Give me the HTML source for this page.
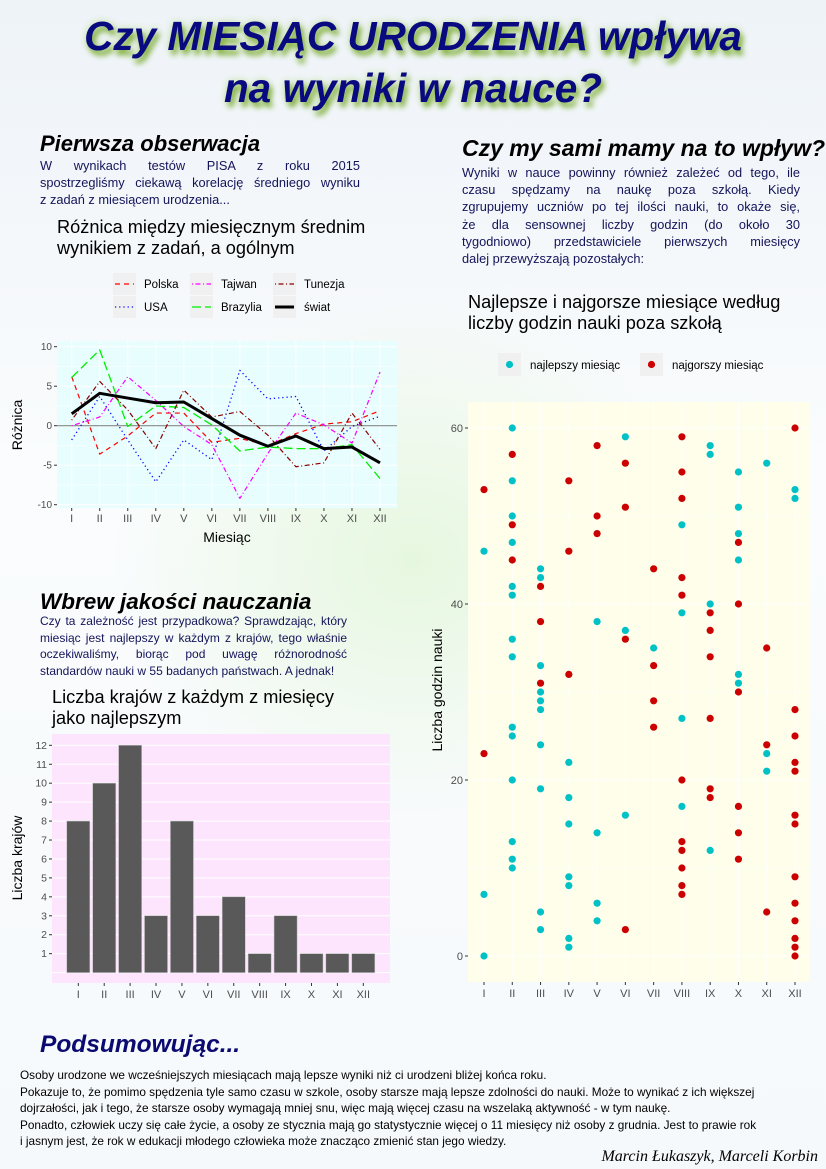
<!DOCTYPE html>
<html><head><meta charset="utf-8">
<style>
html,body{margin:0;padding:0}
body{width:826px;height:1169px;position:relative;overflow:hidden;font-family:"Liberation Sans",sans-serif;
background:radial-gradient(ellipse 300px 260px at 413px 560px,#e6f7df 0%,rgba(240,250,240,0) 100%),linear-gradient(180deg,#eef3f8 0%,#fafcfd 40%,#f6f9fc 100%);}
.abs{position:absolute;margin:0}
.title{left:0;width:826px;text-align:center;font-style:italic;font-weight:bold;font-size:40.5px;color:#0a0a80;text-shadow:3px 5px 6px #7fae3a,0 0 8px #c0dc98}
.h2{font-weight:bold;font-style:italic;font-size:22px;color:#000}
.p{font-size:12.8px;line-height:17.2px;color:#14145a}
.p span{display:block;text-align:justify;text-align-last:justify;white-space:nowrap}
.p span.l{text-align-last:left}
.ct{font-size:18.2px;line-height:21px;color:#000}
svg text{font-family:"Liberation Sans",sans-serif}
</style></head><body>
<div class="abs title" style="top:13px">Czy MIESIĄC URODZENIA wpływa</div>
<div class="abs title" style="top:65px">na wyniki w nauce?</div>

<div class="abs h2" style="left:40px;top:131px">Pierwsza obserwacja</div>
<div class="abs p" style="left:40px;top:157px;width:320px"><span>W wynikach testów PISA z roku 2015</span><span>spostrzegliśmy ciekawą korelację średniego wyniku</span><span class="l">z zadań z miesiącem urodzenia...</span></div>
<div class="abs ct" style="left:57px;top:217px">Różnica między miesięcznym średnim<br>wynikiem z zadań, a ogólnym</div>

<div class="abs h2" style="left:462px;top:135px;font-size:23px">Czy my sami mamy na to wpływ?</div>
<div class="abs p" style="left:462px;top:164px;width:338px"><span>Wyniki w nauce powinny również zależeć od tego, ile</span><span>czasu spędzamy na naukę poza szkołą. Kiedy</span><span>zgrupujemy uczniów po tej ilości nauki, to okaże się,</span><span>że dla sensownej liczby godzin (do około 30</span><span>tygodniowo) przedstawiciele pierwszych miesięcy</span><span class="l">dalej przewyższają pozostałych:</span></div>
<div class="abs ct" style="left:468px;top:292px">Najlepsze i najgorsze miesiące według<br>liczby godzin nauki poza szkołą</div>

<div class="abs h2" style="left:40px;top:589px;font-size:22.5px">Wbrew jakości nauczania</div>
<div class="abs p" style="left:40px;top:613px;width:307px;font-size:12px;line-height:16.5px"><span>Czy ta zależność jest przypadkowa? Sprawdzając, który</span><span>miesiąc jest najlepszy w każdym z krajów, tego właśnie</span><span>oczekiwaliśmy, biorąc pod uwagę różnorodność</span><span class="l">standardów nauki w 55 badanych państwach. A jednak!</span></div>
<div class="abs ct" style="left:52px;top:687px">Liczba krajów z każdym z miesięcy<br>jako najlepszym</div>

<div class="abs h2" style="left:40px;top:1031px;font-size:24.5px;color:#0a0a70">Podsumowując...</div>
<div class="abs" style="left:20px;top:1067px;width:800px;font-size:11.8px;line-height:16.6px;color:#000;white-space:nowrap">Osoby urodzone we wcześniejszych miesiącach mają lepsze wyniki niż ci urodzeni bliżej końca roku.<br>Pokazuje to, że pomimo spędzenia tyle samo czasu w szkole, osoby starsze mają lepsze zdolności do nauki. Może to wynikać z ich większej<br>dojrzałości, jak i tego, że starsze osoby wymagają mniej snu, więc mają więcej czasu na wszelaką aktywność - w tym naukę.<br>Ponadto, człowiek uczy się całe życie, a osoby ze stycznia mają go statystycznie więcej o 11 miesięcy niż osoby z grudnia. Jest to prawie rok<br>i jasnym jest, że rok w edukacji młodego człowieka może znacząco zmienić stan jego wiedzy.</div>
<div class="abs" style="right:8px;top:1148px;font-family:'Liberation Serif',serif;font-style:italic;font-size:16px">Marcin Łukaszyk, Marceli Korbin</div>

<svg class="abs" style="left:0;top:0" width="826" height="1169" id="charts"></svg>

<script>
const months=["I","II","III","IV","V","VI","VII","VIII","IX","X","XI","XII"];
// line chart data
const polska=[6.2,-3.6,-1.3,1.6,1.6,-2.1,-1.6,-2.5,-1.0,0.2,0.5,1.9];
const usa=[-1.8,3.7,-1.8,-7.1,-1.8,-4.3,7.0,3.4,3.7,-3.2,-0.1,1.2];
const tajwan=[0,1.1,6.2,3.2,-0.1,-2.4,-9.2,-3.5,1.6,0.1,-2.2,6.8];
const brazylia=[6.1,9.6,-0.1,2.5,2.3,0.1,-3.2,-2.7,-2.9,-2.9,-2.4,-6.7];
const tunezja=[0.7,5.6,2.0,-2.9,4.5,1.1,1.8,-1.2,-5.2,-4.7,1.6,-3.0];
const swiat=[1.5,4.1,3.5,2.9,3.0,0.9,-1.2,-2.6,-1.3,-2.9,-2.7,-4.7];
const lineTicks=[10,5,0,-5,-10];
// bar chart data
const barValues=[8,10,12,3,8,3,4,1,3,1,1,1];
const barTicks=[1,2,3,4,5,6,7,8,9,10,11,12];
// scatter data: hours per month
const bestByMonth=[[46,7,0],[60,54,50,47,42,41,36,34,26,25,20,13,11,10],[44,43,33,30,29,28,24,19,5,3],[22,18,15,9,8,2,1],[38,14,6,4],[59,37,16],[35],[49,39,27,17],[58,57,40,12],[55,51,48,45,32,31],[56,23,21],[53,52]];
const worstByMonth=[[53,23],[57,49,45],[42,38,31],[54,46,32],[58,50,48],[56,51,36,3],[44,33,29,26],[59,55,52,43,41,20,13,12,10,8,7],[39,37,34,27,19,18],[47,40,30,17,14,11],[35,24,5],[60,28,25,22,21,16,15,9,6,4,2,1,0]];
const scatterTicks=[0,20,40,60];

const svg=document.getElementById('charts');
const NS='http://www.w3.org/2000/svg';
function mk(tag,attrs,parent){const e=document.createElementNS(NS,tag);for(const k in attrs)e.setAttribute(k,attrs[k]);(parent||svg).appendChild(e);return e;}

// ---------- line chart ----------
const L={x0:57,x1:397,y0:341,y1:508};
const lx=i=>71.7+i*(380-71.7)/11;
const ly=v=>425.7-v*7.9;
let g=mk('g',{});


let r=mk('rect',{x:L.x0,y:L.y0,width:L.x1-L.x0,height:L.y1-L.y0,fill:'#e8fdfd'},g);


[-7.5,-2.5,2.5,7.5].forEach(v=>mk('line',{x1:L.x0,x2:L.x1,y1:ly(v),y2:ly(v),stroke:'#fff','stroke-width':0.5},g));
lineTicks.forEach(v=>{mk('line',{x1:L.x0,x2:L.x1,y1:ly(v),y2:ly(v),stroke:'#fff','stroke-width':1},g);
 mk('line',{x1:L.x0-3,x2:L.x0,y1:ly(v),y2:ly(v),stroke:'#333'},g);
 const t=mk('text',{x:L.x0-5,y:ly(v)+3.5,'text-anchor':'end','font-size':10,fill:'#4d4d4d'},g);t.textContent=v;
 });
months.forEach((m,i)=>{mk('line',{x1:lx(i),x2:lx(i),y1:L.y0,y2:L.y1,stroke:'#fff'},g);
 mk('line',{x1:lx(i),x2:lx(i),y1:L.y1,y2:L.y1+3,stroke:'#333'},g);
 const t=mk('text',{x:lx(i),y:L.y1+14,'text-anchor':'middle','font-size':11,fill:'#4d4d4d'},g);t.textContent=m;
 });
mk('line',{x1:L.x0,x2:L.x1,y1:ly(0),y2:ly(0),stroke:'#888','stroke-width':1.2},g);
const styles=[{d:polska,c:'#ff0000',da:'5,4',w:1.2,n:'polska'},{d:usa,c:'#0000ff',da:'1.2,3',w:1.3,n:'usa'},{d:tajwan,c:'#ff00ff',da:'1,2.5,5,2.5',w:1.2,n:'tajwan'},{d:brazylia,c:'#00ee00',da:'9,4',w:1.3,n:'brazylia'},{d:tunezja,c:'#8b0000',da:'1,2.5,5,2.5',w:1.2,n:'tunezja'},{d:swiat,c:'#000',da:'',w:3,n:'swiat'}];
styles.forEach(s=>{const p=mk('polyline',{points:s.d.map((v,i)=>lx(i)+','+ly(v)).join(' '),fill:'none',stroke:s.c,'stroke-width':s.w,'stroke-dasharray':s.da,'stroke-linejoin':'round'},g);
 });
let t=mk('text',{x:227,y:542,'text-anchor':'middle','font-size':14},g);t.textContent='Miesiąc';

t=mk('text',{x:0,y:0,'text-anchor':'middle','font-size':14,transform:'translate(22,425) rotate(-90)'},g);t.textContent='Różnica';

const leg=[{n:'Polska',x:113,y:273,s:0},{n:'Tajwan',x:190,y:273,s:2},{n:'Tunezja',x:273,y:273,s:4},{n:'USA',x:113,y:296,s:1},{n:'Brazylia',x:190,y:296,s:3},{n:'świat',x:273,y:296,s:5}];
leg.forEach(l=>{const s=styles[l.s];const gg=mk('g',{},g);
 mk('rect',{x:l.x,y:l.y,width:23,height:22,fill:'#f0f0f0'},gg);
 mk('line',{x1:l.x+2,x2:l.x+21,y1:l.y+11,y2:l.y+11,stroke:s.c,'stroke-width':s.w,'stroke-dasharray':s.da},gg);
 const tt=mk('text',{x:l.x+31,y:l.y+15,'font-size':11.5},gg);tt.textContent=l.n;});

// ---------- bar chart ----------
const B={x0:52,x1:390,y0:734,y1:983};
const bx=i=>78.3+i*(363.3-78.3)/11;
const by=v=>972.6-v*18.94;
g=mk('g',{});


r=mk('rect',{x:B.x0,y:B.y0,width:B.x1-B.x0,height:B.y1-B.y0,fill:'#fde6fd'},g);


barTicks.forEach(v=>{mk('line',{x1:B.x0,x2:B.x1,y1:by(v),y2:by(v),stroke:'#fff'},g);
 mk('line',{x1:B.x0-3,x2:B.x0,y1:by(v),y2:by(v),stroke:'#333'},g);
 const tt=mk('text',{x:B.x0-5,y:by(v)+3.5,'text-anchor':'end','font-size':10.5,fill:'#4d4d4d'},g);tt.textContent=v;
 });
mk('line',{x1:B.x0,x2:B.x1,y1:by(0),y2:by(0),stroke:'#fff'},g);
months.forEach((m,i)=>{const h=barValues[i];
 const b=mk('rect',{x:bx(i)-11.5,y:by(h),width:23,height:by(0)-by(h),fill:'#595959',stroke:'#bbb','stroke-width':0.5},g);
 
 mk('line',{x1:bx(i),x2:bx(i),y1:B.y1,y2:B.y1+3,stroke:'#333'},g);
 const tt=mk('text',{x:bx(i),y:B.y1+15,'text-anchor':'middle','font-size':11,fill:'#4d4d4d'},g);tt.textContent=m;
 });
t=mk('text',{x:0,y:0,'text-anchor':'middle','font-size':14,transform:'translate(22,858) rotate(-90)'},g);t.textContent='Liczba krajów';


// ---------- scatter chart ----------
const S={x0:468,x1:810,y0:402,y1:982};
const sx=m=>484+m*(795-484)/11;
const sy=v=>956-v*8.8;
g=mk('g',{});


r=mk('rect',{x:S.x0,y:S.y0,width:S.x1-S.x0,height:S.y1-S.y0,fill:'#fefeea'},g);


[10,30,50].forEach(v=>mk('line',{x1:S.x0,x2:S.x1,y1:sy(v),y2:sy(v),stroke:'#fff','stroke-width':0.5},g));
scatterTicks.forEach(v=>{mk('line',{x1:S.x0,x2:S.x1,y1:sy(v),y2:sy(v),stroke:'#fff'},g);
 mk('line',{x1:S.x0-3,x2:S.x0,y1:sy(v),y2:sy(v),stroke:'#333'},g);
 const tt=mk('text',{x:S.x0-5,y:sy(v)+4,'text-anchor':'end','font-size':11,fill:'#4d4d4d'},g);tt.textContent=v;
 });
months.forEach((m,i)=>{mk('line',{x1:sx(i),x2:sx(i),y1:S.y0,y2:S.y1,stroke:'#fff'},g);
 mk('line',{x1:sx(i),x2:sx(i),y1:S.y1,y2:S.y1+3,stroke:'#333'},g);
 const tt=mk('text',{x:sx(i),y:S.y1+15,'text-anchor':'middle','font-size':11,fill:'#4d4d4d'},g);tt.textContent=m;
 });
bestByMonth.forEach((arr,i)=>arr.forEach(h=>{const c=mk('circle',{cx:sx(i),cy:sy(h),r:3.6,fill:'#00c2c6'},g);
 
 }));
worstByMonth.forEach((arr,i)=>arr.forEach(h=>{const c=mk('circle',{cx:sx(i),cy:sy(h),r:3.6,fill:'#cc0000'},g);
 
 }));
t=mk('text',{x:0,y:0,'text-anchor':'middle','font-size':14,transform:'translate(442,690) rotate(-90)'},g);t.textContent='Liczba godzin nauki';

[{n:'najlepszy miesiąc',x:498,c:'#00c2c6'},{n:'najgorszy miesiąc',x:640,c:'#cc0000'}].forEach(l=>{
 const gg=mk('g',{},g);
 mk('rect',{x:l.x,y:353,width:23,height:23,fill:'#f0f0f0'},gg);
 mk('circle',{cx:l.x+11.5,cy:364.5,r:3.6,fill:l.c},gg);
 const tt=mk('text',{x:l.x+32,y:369,'font-size':11.5},gg);tt.textContent=l.n;});
</script>
</body></html>
